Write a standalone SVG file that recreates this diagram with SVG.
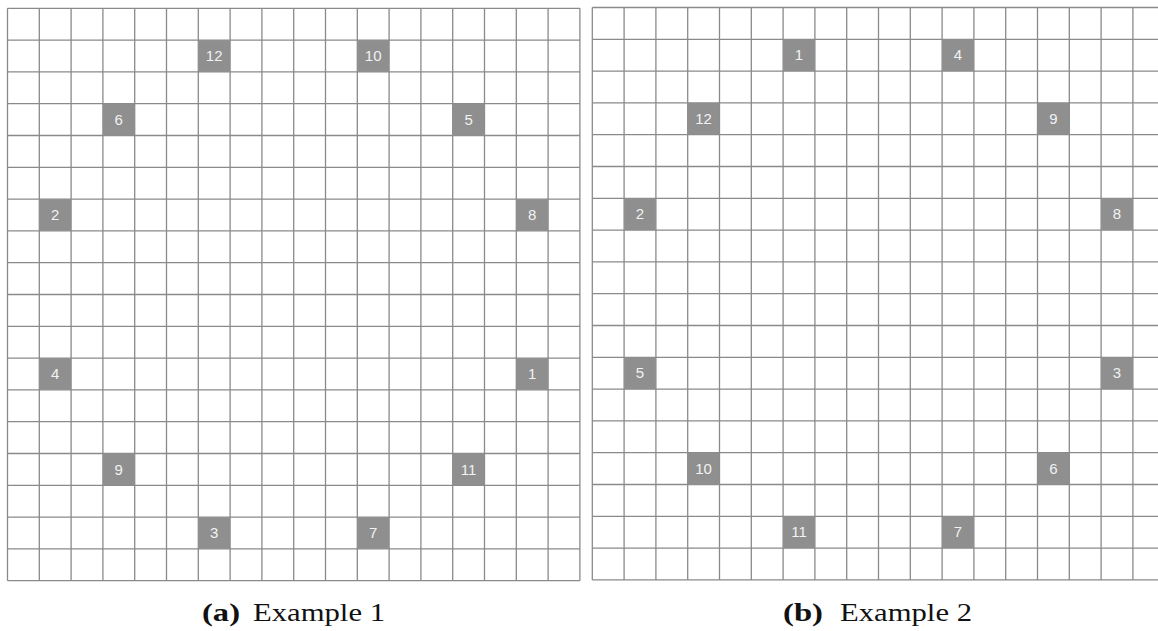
<svg xmlns="http://www.w3.org/2000/svg" width="1158" height="631" viewBox="0 0 1158 631">
<style>
.grid{fill:none;stroke:#8a8a8a;stroke-width:1.3}
.cell{fill:#8f8f8f}
.lbl{font-family:"Liberation Sans",Arial,sans-serif;font-size:15px;fill:#f2f2f2;text-anchor:middle}
.cap{font-family:"Liberation Serif","Times New Roman",serif;font-size:25px;fill:#111}
.capb{font-weight:bold}
</style>
<defs>
<clipPath id="clip"><rect x="0" y="0" width="1158" height="631"/></clipPath>
</defs>
<rect x="0" y="0" width="1158" height="631" fill="#fff"/>

<g id="grid-a">
<path class="grid" d="M7.5 8.3V580.7M39.3 8.3V580.7M71.1 8.3V580.7M102.9 8.3V580.7M134.7 8.3V580.7M166.5 8.3V580.7M198.3 8.3V580.7M230.1 8.3V580.7M261.9 8.3V580.7M293.7 8.3V580.7M325.5 8.3V580.7M357.3 8.3V580.7M389.1 8.3V580.7M420.9 8.3V580.7M452.7 8.3V580.7M484.5 8.3V580.7M516.3 8.3V580.7M548.1 8.3V580.7M579.9 8.3V580.7M7.5 8.3H579.9M7.5 40.1H579.9M7.5 71.9H579.9M7.5 103.7H579.9M7.5 135.5H579.9M7.5 167.3H579.9M7.5 199.1H579.9M7.5 230.9H579.9M7.5 262.7H579.9M7.5 294.5H579.9M7.5 326.3H579.9M7.5 358.1H579.9M7.5 389.9H579.9M7.5 421.7H579.9M7.5 453.5H579.9M7.5 485.3H579.9M7.5 517.1H579.9M7.5 548.9H579.9M7.5 580.7H579.9"/>
</g>

<g id="grid-b" clip-path="url(#clip)">
<path class="grid" d="M592.3 7.5V579.9M624.1 7.5V579.9M655.9 7.5V579.9M687.7 7.5V579.9M719.5 7.5V579.9M751.3 7.5V579.9M783.1 7.5V579.9M814.9 7.5V579.9M846.7 7.5V579.9M878.5 7.5V579.9M910.3 7.5V579.9M942.1 7.5V579.9M973.9 7.5V579.9M1005.7 7.5V579.9M1037.5 7.5V579.9M1069.3 7.5V579.9M1101.1 7.5V579.9M1132.9 7.5V579.9M1164.7 7.5V579.9M592.3 7.5H1164.7M592.3 39.3H1164.7M592.3 71.1H1164.7M592.3 102.9H1164.7M592.3 134.7H1164.7M592.3 166.5H1164.7M592.3 198.3H1164.7M592.3 230.1H1164.7M592.3 261.9H1164.7M592.3 293.7H1164.7M592.3 325.5H1164.7M592.3 357.3H1164.7M592.3 389.1H1164.7M592.3 420.9H1164.7M592.3 452.7H1164.7M592.3 484.5H1164.7M592.3 516.3H1164.7M592.3 548.1H1164.7M592.3 579.9H1164.7"/>
</g>

<g id="connectors"></g>

<!-- Example 1 nodes -->
<g id="a-12" transform="translate(198.3,40.1)"><rect class="cell" width="31.8" height="31.8"/><text class="lbl" x="15.9" y="21.2">12</text></g>
<g id="a-10" transform="translate(357.3,40.1)"><rect class="cell" width="31.8" height="31.8"/><text class="lbl" x="15.9" y="21.2">10</text></g>
<g id="a-6" transform="translate(102.9,103.7)"><rect class="cell" width="31.8" height="31.8"/><text class="lbl" x="15.9" y="21.2">6</text></g>
<g id="a-5" transform="translate(452.7,103.7)"><rect class="cell" width="31.8" height="31.8"/><text class="lbl" x="15.9" y="21.2">5</text></g>
<g id="a-2" transform="translate(39.3,199.1)"><rect class="cell" width="31.8" height="31.8"/><text class="lbl" x="15.9" y="21.2">2</text></g>
<g id="a-8" transform="translate(516.3,199.1)"><rect class="cell" width="31.8" height="31.8"/><text class="lbl" x="15.9" y="21.2">8</text></g>
<g id="a-4" transform="translate(39.3,358.1)"><rect class="cell" width="31.8" height="31.8"/><text class="lbl" x="15.9" y="21.2">4</text></g>
<g id="a-1" transform="translate(516.3,358.1)"><rect class="cell" width="31.8" height="31.8"/><text class="lbl" x="15.9" y="21.2">1</text></g>
<g id="a-9" transform="translate(102.9,453.5)"><rect class="cell" width="31.8" height="31.8"/><text class="lbl" x="15.9" y="21.2">9</text></g>
<g id="a-11" transform="translate(452.7,453.5)"><rect class="cell" width="31.8" height="31.8"/><text class="lbl" x="15.9" y="21.2">11</text></g>
<g id="a-3" transform="translate(198.3,517.1)"><rect class="cell" width="31.8" height="31.8"/><text class="lbl" x="15.9" y="21.2">3</text></g>
<g id="a-7" transform="translate(357.3,517.1)"><rect class="cell" width="31.8" height="31.8"/><text class="lbl" x="15.9" y="21.2">7</text></g>

<!-- Example 2 nodes -->
<g id="b-1" transform="translate(783.1,39.3)"><rect class="cell" width="31.8" height="31.8"/><text class="lbl" x="15.9" y="21.2">1</text></g>
<g id="b-4" transform="translate(942.1,39.3)"><rect class="cell" width="31.8" height="31.8"/><text class="lbl" x="15.9" y="21.2">4</text></g>
<g id="b-12" transform="translate(687.7,102.9)"><rect class="cell" width="31.8" height="31.8"/><text class="lbl" x="15.9" y="21.2">12</text></g>
<g id="b-9" transform="translate(1037.5,102.9)"><rect class="cell" width="31.8" height="31.8"/><text class="lbl" x="15.9" y="21.2">9</text></g>
<g id="b-2" transform="translate(624.1,198.3)"><rect class="cell" width="31.8" height="31.8"/><text class="lbl" x="15.9" y="21.2">2</text></g>
<g id="b-8" transform="translate(1101.1,198.3)"><rect class="cell" width="31.8" height="31.8"/><text class="lbl" x="15.9" y="21.2">8</text></g>
<g id="b-5" transform="translate(624.1,357.3)"><rect class="cell" width="31.8" height="31.8"/><text class="lbl" x="15.9" y="21.2">5</text></g>
<g id="b-3" transform="translate(1101.1,357.3)"><rect class="cell" width="31.8" height="31.8"/><text class="lbl" x="15.9" y="21.2">3</text></g>
<g id="b-10" transform="translate(687.7,452.7)"><rect class="cell" width="31.8" height="31.8"/><text class="lbl" x="15.9" y="21.2">10</text></g>
<g id="b-6" transform="translate(1037.5,452.7)"><rect class="cell" width="31.8" height="31.8"/><text class="lbl" x="15.9" y="21.2">6</text></g>
<g id="b-11" transform="translate(783.1,516.3)"><rect class="cell" width="31.8" height="31.8"/><text class="lbl" x="15.9" y="21.2">11</text></g>
<g id="b-7" transform="translate(942.1,516.3)"><rect class="cell" width="31.8" height="31.8"/><text class="lbl" x="15.9" y="21.2">7</text></g>

<g id="captions">
<text class="cap capb" x="202" y="621" textLength="38" lengthAdjust="spacingAndGlyphs">(a)</text>
<text class="cap" x="253" y="621" textLength="132" lengthAdjust="spacingAndGlyphs">Example 1</text>
<text class="cap capb" x="783" y="621" textLength="40" lengthAdjust="spacingAndGlyphs">(b)</text>
<text class="cap" x="840" y="621" textLength="132" lengthAdjust="spacingAndGlyphs">Example 2</text>
</g>
</svg>
